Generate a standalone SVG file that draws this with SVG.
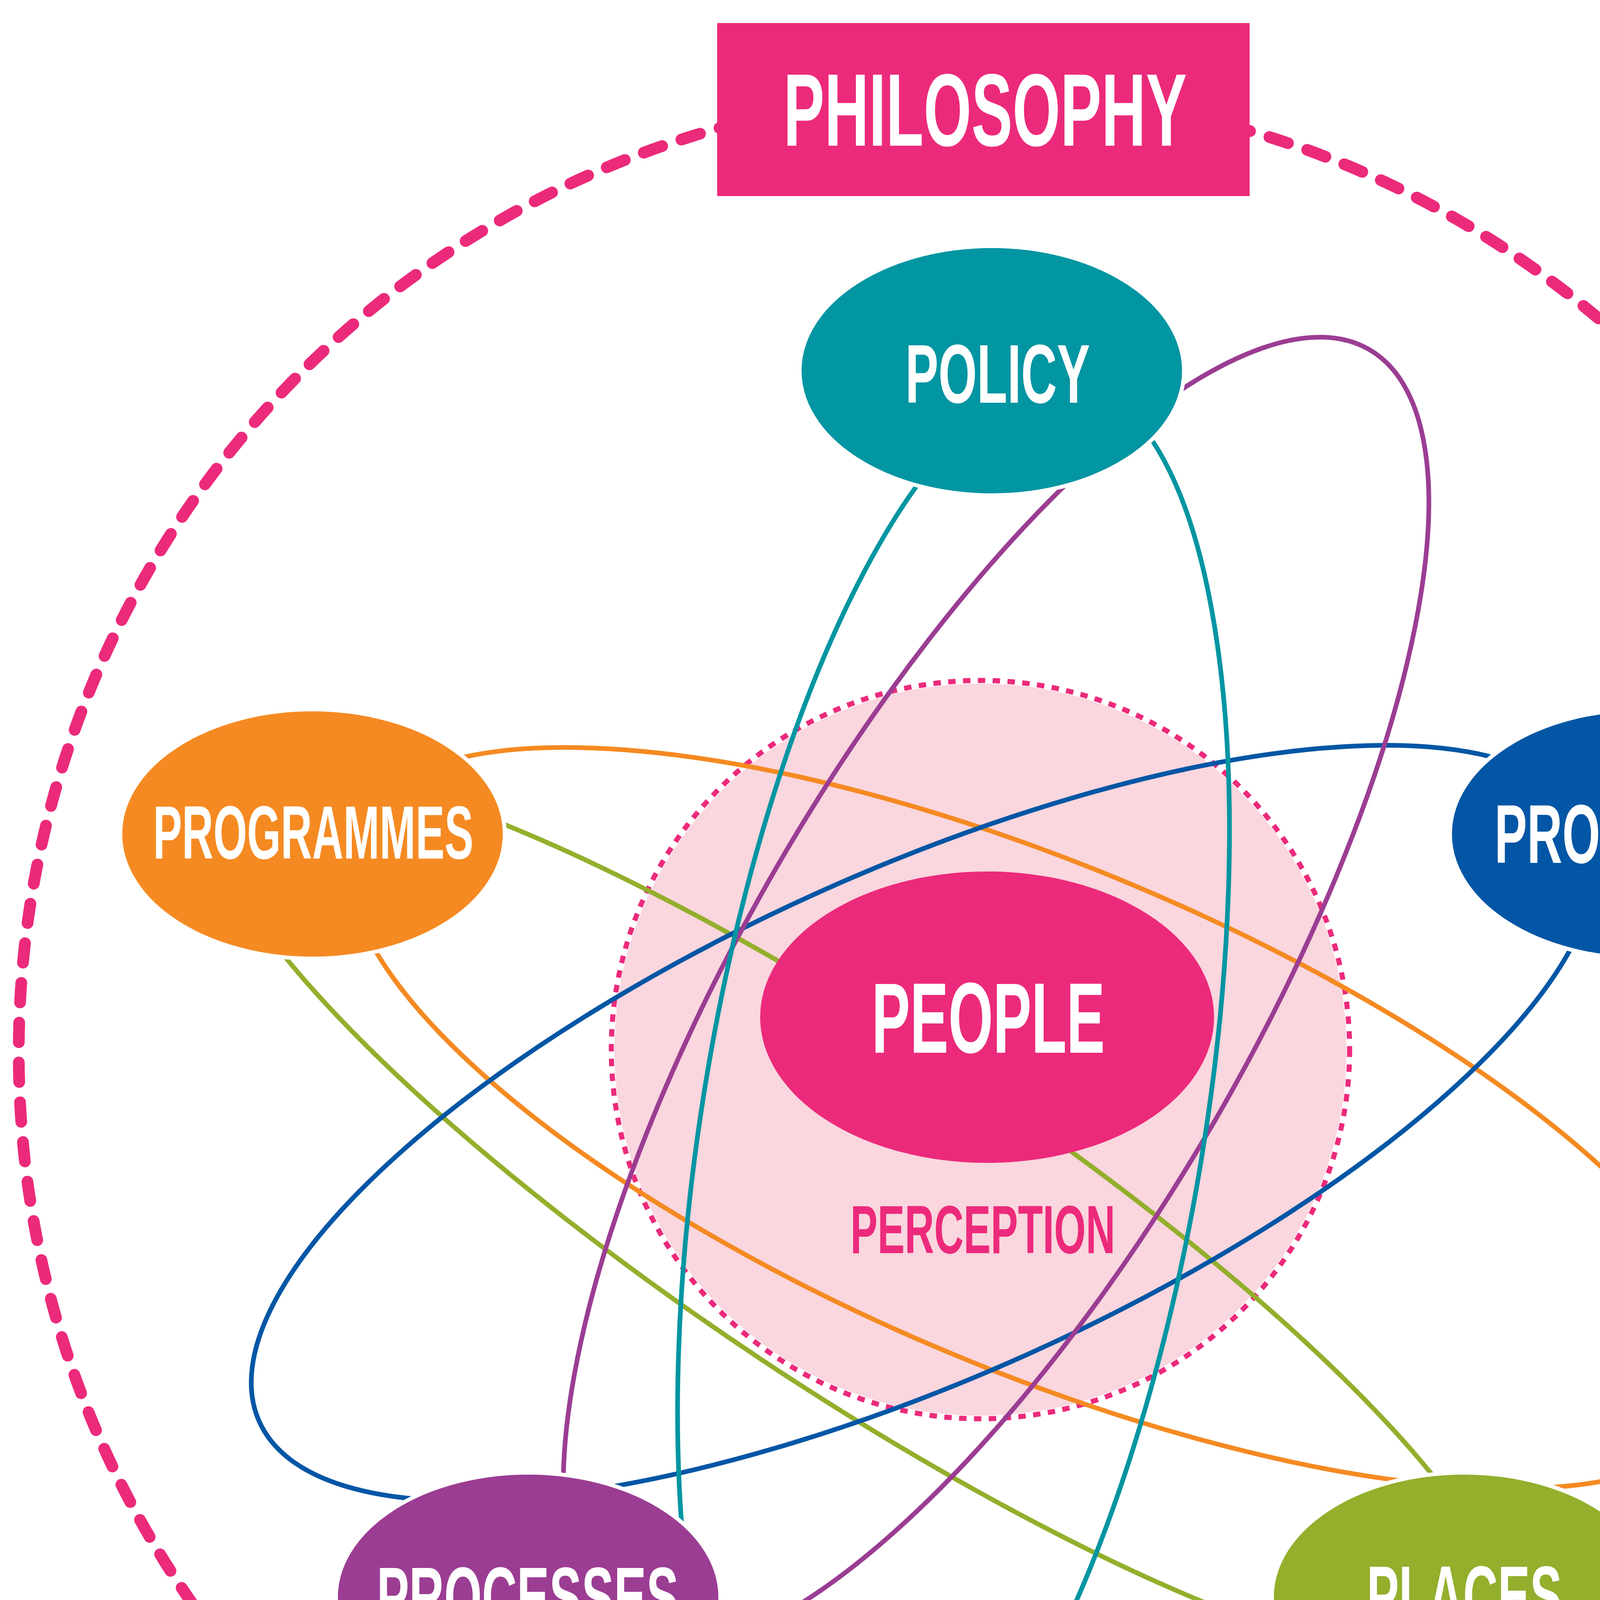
<svg xmlns="http://www.w3.org/2000/svg" width="5023" height="5172" viewBox="0 0 5023 5172">
  <style>
    .lbl { font-family: "Liberation Sans", "DejaVu Sans", sans-serif; font-weight: 700; fill: #ffffff; text-anchor: middle; }
    .orbit { fill: none; stroke-width: 12; }
    .node { stroke: #ffffff; stroke-width: 10; }
  </style>
  <rect width="5023" height="5172" fill="#ffffff"/>

  <!-- outer philosophy boundary -->
  <circle id="philosophy-ring" cx="2507" cy="2695" r="2459" fill="none" stroke="#EC2A7B" stroke-width="30" stroke-linecap="round" stroke-dasharray="50 52"/>

  <!-- perception zone -->
  <g id="perception-zone">
    <circle cx="2510" cy="2687" r="945" fill="#FAD6DE" stroke="#ffffff" stroke-width="16"/>
    <circle cx="2510" cy="2687" r="945" fill="none" stroke="#EC2A7B" stroke-width="13" stroke-dasharray="19 19"/>
  </g>

  <!-- connectors (orbits) -->
  <g id="connectors">
    <ellipse class="orbit" stroke="#93AF2C" stroke-width="11" cx="2196" cy="3110" rx="1960" ry="445" transform="rotate(33.6 2196 3110)"/>
    <ellipse class="orbit" stroke="#F58A22" cx="2660" cy="2862" rx="1903" ry="643" transform="rotate(22.9 2660 2862)"/>
    <ellipse class="orbit" stroke="#0256A5" cx="2365" cy="2875" rx="1865" ry="649" transform="rotate(-24.2 2365 2875)"/>
    <ellipse class="orbit" stroke="#9B3D93" cx="2550" cy="2543" rx="648" ry="1905" transform="rotate(30.1 2550 2543)"/>
    <ellipse class="orbit" stroke="#0295A2" cx="2441" cy="2870" rx="642" ry="1915" transform="rotate(9.4 2441 2870)"/>
  </g>

  <g id="node-policy">
    <ellipse class="node" cx="2539" cy="949" rx="492" ry="319" fill="#0295A2"/>
    <text class="lbl" x="2554" y="1031" font-size="214" textLength="473" lengthAdjust="spacingAndGlyphs">POLICY</text>
  </g>
  <g id="node-programmes">
    <ellipse class="node" cx="800" cy="2135" rx="492" ry="319" fill="#F58A22"/>
    <text class="lbl" x="802" y="2198" font-size="193" textLength="820" lengthAdjust="spacingAndGlyphs">PROGRAMMES</text>
  </g>
  <g id="node-promotion">
    <ellipse class="node" cx="4204" cy="2135" rx="492" ry="319" fill="#0256A5"/>
    <text class="lbl" x="4211" y="2209" font-size="214" textLength="770" lengthAdjust="spacingAndGlyphs">PROMOTION</text>
  </g>
  <g id="node-processes">
    <ellipse class="node" cx="1352" cy="4089" rx="492" ry="319" fill="#9B3D93"/>
    <text class="lbl" x="1351" y="4161" font-size="214" textLength="773" lengthAdjust="spacingAndGlyphs">PROCESSES</text>
  </g>
  <g id="node-places">
    <ellipse class="node" cx="3748" cy="4089" rx="492" ry="319" fill="#93AF2C"/>
    <text class="lbl" x="3749" y="4158" font-size="214" textLength="500" lengthAdjust="spacingAndGlyphs">PLACES</text>
  </g>
  <g id="node-people">
    <ellipse cx="2527" cy="2604" rx="581" ry="373" fill="#EC2A7B"/>
    <text class="lbl" x="2530" y="2695" font-size="256" textLength="597" lengthAdjust="spacingAndGlyphs">PEOPLE</text>
  </g>
  <g id="label-perception">
    <text class="lbl" x="2516" y="3208" font-size="175" textLength="678" lengthAdjust="spacingAndGlyphs" style="fill:#EC2A7B">PERCEPTION</text>
  </g>

  <g id="node-philosophy">
    <rect x="1836" y="59" width="1363" height="443" fill="#EC2A7B"/>
    <text class="lbl" x="2522" y="373" font-size="264" textLength="1033" lengthAdjust="spacingAndGlyphs">PHILOSOPHY</text>
  </g>
</svg>
